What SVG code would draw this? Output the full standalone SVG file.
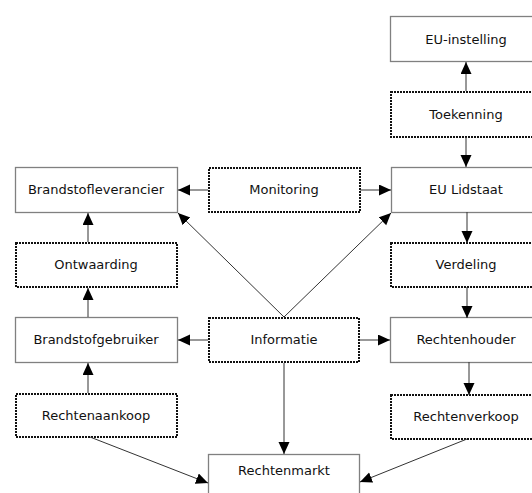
<svg xmlns="http://www.w3.org/2000/svg" width="532" height="493" viewBox="0 0 532 493">
<defs>
<marker id="ah" markerUnits="userSpaceOnUse" markerWidth="13" markerHeight="12" refX="12" refY="5.5" orient="auto">
<path d="M0,0 L12,5.5 L0,11 z" fill="#000"/>
</marker>
<style>
.solid{fill:#fff;stroke:#808080;stroke-width:1.3}
.dot{fill:#fff;stroke:#111;stroke-width:2;stroke-dasharray:2 1}
text{font-family:"DejaVu Sans",Verdana,sans-serif;font-size:13px;fill:#111;text-anchor:middle}
.c line{stroke:#333;stroke-width:1;marker-end:url(#ah)}
</style>
</defs>
<rect width="532" height="493" fill="#fff"/>
<g id="n-euinstelling"><rect class="solid" x="390.5" y="16.5" width="152" height="45"/><text x="466" y="43.5">EU-instelling</text></g>
<g id="n-toekenning"><rect class="dot" x="391" y="92" width="152" height="45"/><text x="466" y="119">Toekenning</text></g>
<g id="n-brandstofleverancier"><rect class="solid" x="15.5" y="167.5" width="162" height="45"/><text x="96" y="194">Brandstofleverancier</text></g>
<g id="n-monitoring"><rect class="dot" x="209" y="168" width="151" height="44"/><text x="284" y="194">Monitoring</text></g>
<g id="n-eulidstaat"><rect class="solid" x="391.5" y="167.5" width="152" height="45"/><text x="466" y="194">EU Lidstaat</text></g>
<g id="n-ontwaarding"><rect class="dot" x="16" y="243" width="161" height="44"/><text x="96" y="269">Ontwaarding</text></g>
<g id="n-verdeling"><rect class="dot" x="391" y="243" width="152" height="44"/><text x="466" y="269">Verdeling</text></g>
<g id="n-brandstofgebruiker"><rect class="solid" x="15.5" y="317.5" width="162" height="45"/><text x="96" y="344">Brandstofgebruiker</text></g>
<g id="n-informatie"><rect class="dot" x="209" y="318" width="150" height="44"/><text x="284" y="344">Informatie</text></g>
<g id="n-rechtenhouder"><rect class="solid" x="390.5" y="317.5" width="152" height="45"/><text x="466" y="344">Rechtenhouder</text></g>
<g id="n-rechtenaankoop"><rect class="dot" x="16" y="394" width="161" height="43"/><text x="96" y="420">Rechtenaankoop</text></g>
<g id="n-rechtenverkoop"><rect class="dot" x="391" y="395" width="152" height="44"/><text x="466" y="421">Rechtenverkoop</text></g>
<g id="n-rechtenmarkt"><rect class="solid" x="208.5" y="454.5" width="151" height="50"/><text x="284" y="475">Rechtenmarkt</text></g>
<g id="connectors" class="c">
<line x1="466" y1="91" x2="466" y2="62"/>
<line x1="466" y1="137" x2="466" y2="167"/>
<line x1="208" y1="190" x2="178" y2="190"/>
<line x1="360" y1="190" x2="391" y2="190"/>
<line x1="467" y1="212" x2="467" y2="243"/>
<line x1="88" y1="242" x2="88" y2="213"/>
<line x1="88" y1="317" x2="88" y2="288"/>
<line x1="284" y1="317" x2="178" y2="213"/>
<line x1="284" y1="317" x2="391" y2="213"/>
<line x1="208" y1="340" x2="178" y2="340"/>
<line x1="359" y1="340" x2="390" y2="340"/>
<line x1="467" y1="287" x2="467" y2="318"/>
<line x1="469" y1="362" x2="469" y2="395"/>
<line x1="88" y1="393" x2="88" y2="363"/>
<line x1="284" y1="363" x2="284" y2="454"/>
<line x1="90" y1="437" x2="208" y2="483"/>
<line x1="467" y1="439" x2="360" y2="482"/>
</g>
</svg>
